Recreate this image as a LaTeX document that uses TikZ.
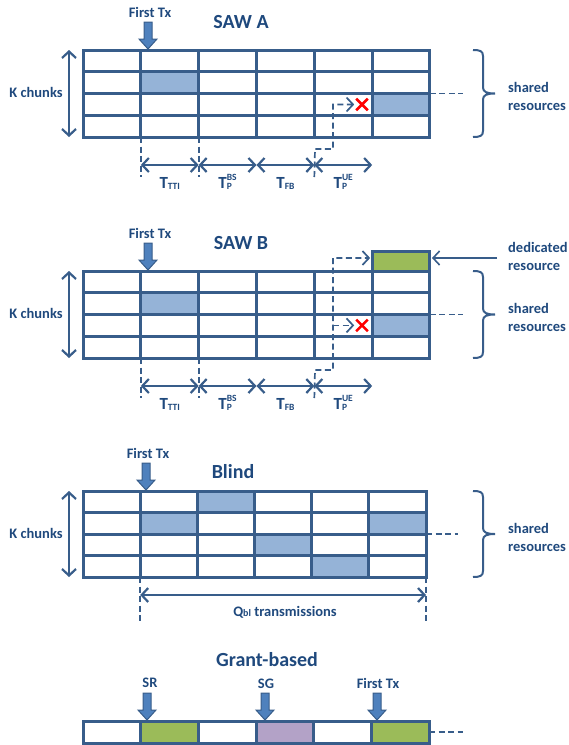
\documentclass[tikz,border=0pt]{standalone}
\usepackage{fontspec}
\setmainfont{Carlito}
\usetikzlibrary{arrows.meta,shapes.misc}
\definecolor{gridc}{HTML}{385D8A}
\definecolor{txtc}{HTML}{1F497D}
\definecolor{hl}{HTML}{95B3D7}
\definecolor{grn}{HTML}{9BBB59}
\definecolor{pur}{HTML}{B3A2C7}
\definecolor{baf}{HTML}{4F81BD}
\newcommand\subtx[1]{\raisebox{-1.5pt}{\fontsize{9.5}{10}\selectfont #1}}
\newcommand\Tsub[1]{T\subtx{#1}}
\newcommand\Tsubsup[2]{T\rlap{\subtx{#1}}\raisebox{8pt}{\fontsize{9.5}{10}\selectfont #2}}
\newcommand\txarrow[2]{\filldraw[ba] (#1,#2) ++(-4,0) -- ++(8,0) -- ++(0,17) -- ++(5,0) -- ++(-9,10) -- ++(-9,-10) -- ++(5,0) -- cycle;}
% brace: x, ytop, ybottom
\newcommand\mybrace[3]{%
  \pgfmathsetmacro\bmid{(#2+#3)/2}%
  \draw[brc] (#1,#2) .. controls ({#1+7},#2) and ({#1+10},{#2+1}) .. ({#1+10},{#2+6})
    -- ({#1+10},{\bmid-6}) .. controls ({#1+10},{\bmid-1.5}) and ({#1+14},\bmid) .. ({#1+22},\bmid)
    .. controls ({#1+14},\bmid) and ({#1+10},{\bmid+1.5}) .. ({#1+10},{\bmid+6})
    -- ({#1+10},{#3-6}) .. controls ({#1+10},{#3-1}) and ({#1+7},#3) .. (#1,#3);}
\tikzset{
 cell/.style={draw=gridc, line width=3pt, fill=white, inner sep=0pt, outer sep=0pt, anchor=north west},
 cA/.style={cell, minimum width=57.83pt, minimum height=21.75pt},
 cBl/.style={cell, minimum width=57.17pt, minimum height=21.5pt},
 cG/.style={cell, minimum width=57.67pt, minimum height=22pt},
 lbl/.style={text=txtc, font=\bfseries\fontsize{14.5}{18}\selectfont, inner sep=0pt},
 ttl/.style={text=txtc, font=\bfseries\fontsize{20}{22}\selectfont, inner sep=0pt},
 tlab/.style={text=txtc, font=\bfseries\fontsize{17}{18}\selectfont, inner sep=0pt, anchor=base},
 barb/.tip={Straight Barb[length=6.5pt,width=14pt]},
 dim/.style={draw=gridc, line width=2.2pt, barb-barb},
 dsh/.style={draw=gridc, line width=1.7pt, dash pattern=on 6pt off 3.5pt},
 ba/.style={fill=baf, draw=gridc, line width=1pt},
 brc/.style={draw=gridc, line width=2pt},
 xmark/.style={cross out, draw=red, line width=2.6pt, minimum size=9pt, inner sep=0pt},
}
\begin{document}
\begin{tikzpicture}[x=1pt,y=-1pt]
\useasboundingbox (0,0) rectangle (569,745);
% ================= SAW A =================
\foreach \r in {1,...,4} \foreach \c in {1,...,6}
  \node[cA] (a-\r-\c) at ({83+(\c-1)*57.83},{50+(\r-1)*21.75}) {};
\node[cA, fill=hl] (a-h1) at (a-2-2.north west) {};
\node[cA, fill=hl] (a-h2) at (a-3-6.north west) {};
\node[ttl] (a-title) at (241,22) {SAW A};
\node[lbl] (a-ftx) at (150,12) {First Tx};
\txarrow{148}{22}
\node[lbl] (a-k) at (36,92) {K chunks};
\coordinate (a-kt) at (69,50); \coordinate (a-kb) at (69,137);
\draw[dim] (a-kt) -- (a-kb);
\draw[dsh] (a-2-6.south east) -- ++(33,0) coordinate (a-dend);
\mybrace{473}{50}{137}
\node[lbl, anchor=west, align=left] (a-sh) at (508,96.5) {shared\\resources};
\draw[dsh] (a-4-2.south west) -- ++(0,40);
\draw[dsh] (a-4-3.south west) -- ++(0,40);
\foreach \c in {2,...,5}
  \draw[dim] ([yshift=-28pt]a-4-\c.south west) -- ([yshift=-28pt]a-4-\c.south east);
\node[tlab] (a-t1) at ([yshift=-51pt]a-4-2.south) {\Tsub{TTI}};
\node[tlab] (a-t2) at ([yshift=-51pt]a-4-3.south) {\Tsubsup{P}{BS}};
\node[tlab] (a-t3) at ([yshift=-51pt]a-4-4.south) {\Tsub{FB}};
\node[tlab] (a-t4) at ([yshift=-51pt]a-4-5.south) {\Tsubsup{P}{UE}};
\node[xmark] (a-x) at (362,104.5) {};
\coordinate (a-e0) at ([yshift=-40pt]a-4-5.south west);
\draw[dsh, -barb] (a-e0) -- (315,149) -- (333,149) -- (333,104.5) -- ([xshift=-2pt]a-x.west);
% ================= SAW B =================
\foreach \r in {1,...,4} \foreach \c in {1,...,6}
  \node[cA] (b-\r-\c) at ({83+(\c-1)*57.83},{271+(\r-1)*21.75}) {};
\node[cA, fill=hl] (b-h1) at (b-2-2.north west) {};
\node[cA, fill=hl] (b-h2) at (b-3-6.north west) {};
\node[cA, fill=grn, minimum height=20pt, anchor=south west] (b-d) at (b-1-6.north west) {};
\node[ttl] (b-title) at (241,243) {SAW B};
\node[lbl] (b-ftx) at (150,233) {First Tx};
\txarrow{148}{243}
\node[lbl] (b-k) at (36,313) {K chunks};
\coordinate (b-kt) at (69,271); \coordinate (b-kb) at (69,358);
\draw[dim] (b-kt) -- (b-kb);
\draw[dsh] (b-2-6.south east) -- ++(33,0) coordinate (b-dend);
\mybrace{473}{271}{358}
\node[lbl, anchor=west, align=left] (b-sh) at (508,317.5) {shared\\resources};
\node[lbl, anchor=west, align=left] (b-ded) at (508,256) {dedicated\\resource};
\coordinate (b-dst) at (497,258);
\draw[gridc, line width=1.6pt, -barb] (b-dst) -- ([yshift=3pt,xshift=2pt]b-d.east);
\draw[dsh] (b-4-2.south west) -- ++(0,40);
\draw[dsh] (b-4-3.south west) -- ++(0,40);
\foreach \c in {2,...,5}
  \draw[dim] ([yshift=-28pt]b-4-\c.south west) -- ([yshift=-28pt]b-4-\c.south east);
\node[tlab] (b-t1) at ([yshift=-51pt]b-4-2.south) {\Tsub{TTI}};
\node[tlab] (b-t2) at ([yshift=-51pt]b-4-3.south) {\Tsubsup{P}{BS}};
\node[tlab] (b-t3) at ([yshift=-51pt]b-4-4.south) {\Tsub{FB}};
\node[tlab] (b-t4) at ([yshift=-51pt]b-4-5.south) {\Tsubsup{P}{UE}};
\node[xmark] (b-x) at (362,325.4) {};
\coordinate (b-e0) at ([yshift=-40pt]b-4-5.south west);
\draw[dsh, -barb] (b-e0) -- (315,370) -- (333,370) -- (333,258) -- ([yshift=3pt,xshift=-2pt]b-d.west);
\draw[dsh, -barb] (333,325.4) -- ([xshift=-2pt]b-x.west);
% ================= Blind =================
\foreach \r in {1,...,4} \foreach \c in {1,...,6}
  \node[cBl] (c-\r-\c) at ({83+(\c-1)*57.17},{491+(\r-1)*21.5}) {};
\node[cBl, fill=hl] (c-h1) at (c-1-3.north west) {};
\node[cBl, fill=hl] (c-h2) at (c-2-2.north west) {};
\node[cBl, fill=hl] (c-h3) at (c-2-6.north west) {};
\node[cBl, fill=hl] (c-h4) at (c-3-4.north west) {};
\node[cBl, fill=hl] (c-h5) at (c-4-5.north west) {};
\node[ttl] (c-title) at (233,472) {Blind};
\node[lbl] (c-ftx) at (148,453) {First Tx};
\txarrow{146}{463}
\node[lbl] (c-k) at (36,533) {K chunks};
\coordinate (c-kt) at (69,491); \coordinate (c-kb) at (69,577);
\draw[dim] (c-kt) -- (c-kb);
\draw[dsh] (c-2-6.south east) -- ++(32,0) coordinate (c-dend);
\mybrace{473}{491}{577}
\node[lbl, anchor=west, align=left] (c-sh) at (508,537) {shared\\resources};
\draw[dsh] (c-4-2.south west) -- ++(0,44);
\draw[dsh] (c-4-6.south east) -- ++(0,44);
\draw[dim] ([yshift=-18pt]c-4-2.south west) -- ([yshift=-18pt]c-4-6.south east);
\node[lbl, anchor=base] (c-q) at (285,616) {Q{\fontsize{10}{10}\selectfont bl} transmissions};
% ================= Grant-based =================
\foreach \c in {1,...,6}
  \node[cG] (g-\c) at ({83+(\c-1)*57.67},721) {};
\node[cG, fill=grn] (g-h1) at (g-2.north west) {};
\node[cG, fill=pur] (g-h2) at (g-4.north west) {};
\node[cG, fill=grn] (g-h3) at (g-6.north west) {};
\node[ttl] (g-title) at (267,660) {Grant-based};
\node[lbl] (g-sr) at (150,683) {SR};
\node[lbl] (g-sg) at (266,684) {SG};
\node[lbl] (g-ftx) at (378,683) {First Tx};
\txarrow{147}{693}
\txarrow{265}{693}
\txarrow{377}{693}
\draw[dsh] (g-6.east) -- ++(34,0) coordinate (g-dend);
\end{tikzpicture}
\end{document}
